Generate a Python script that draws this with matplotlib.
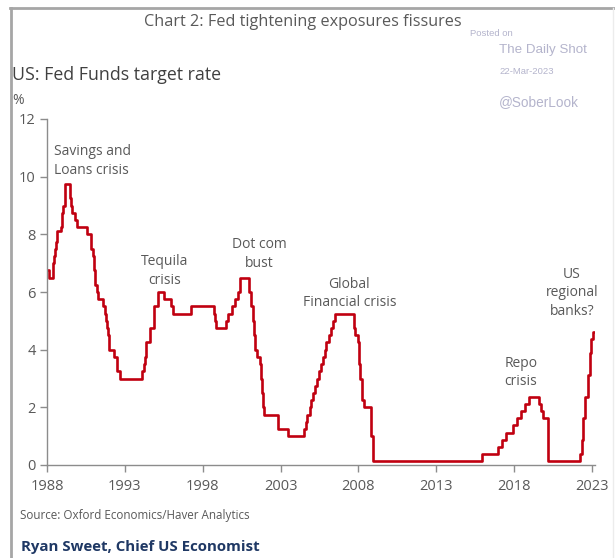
import matplotlib.pyplot as plt
from matplotlib.lines import Line2D

# Fed funds target rate: dates (decimal years) where the target changes, and the new level
change_dates = [
    1988.0, 1988.15, 1988.4, 1988.45, 1988.5, 1988.55, 1988.65, 1988.9, 1988.95,
    1989.05, 1989.15, 1989.45, 1989.5, 1989.55, 1989.6, 1989.8, 1989.9,
    1990.55, 1990.8, 1990.85, 1990.95, 1991.0, 1991.05, 1991.1, 1991.2, 1991.3,
    1991.6, 1991.7, 1991.8, 1991.85, 1991.93, 1991.97, 1992.3, 1992.5, 1992.7,
    1994.1, 1994.2, 1994.3, 1994.38, 1994.62, 1994.88, 1995.1, 1995.5, 1995.95,
    1996.08, 1997.23, 1998.75, 1998.8, 1998.88, 1999.5, 1999.65, 1999.88,
    2000.08, 2000.25, 2000.38, 2001.0, 2001.08, 2001.2, 2001.3, 2001.38, 2001.5,
    2001.65, 2001.72, 2001.8, 2001.85, 2001.95, 2002.85, 2003.5,
    2004.5, 2004.62, 2004.72, 2004.88, 2004.95, 2005.1, 2005.22, 2005.35, 2005.5,
    2005.62, 2005.72, 2005.85, 2005.95, 2006.1, 2006.22, 2006.38, 2006.5,
    2007.72, 2007.8, 2007.95, 2008.05, 2008.1, 2008.22, 2008.33, 2008.78, 2008.83,
    2008.96, 2015.96, 2016.96, 2017.2, 2017.46, 2017.96, 2018.22, 2018.46,
    2018.72, 2018.96, 2019.58, 2019.72, 2019.83, 2020.17, 2020.21,
    2022.22, 2022.38, 2022.46, 2022.58, 2022.72, 2022.85, 2022.96, 2023.1, 2023.2,
]
target_rate = [
    6.75, 6.5, 7.0, 7.25, 7.5, 7.75, 8.125, 8.25, 8.75,
    9.0, 9.75, 9.5, 9.25, 9.0, 8.75, 8.5, 8.25,
    8.0, 7.75, 7.5, 7.25, 7.0, 6.75, 6.25, 6.0, 5.75,
    5.5, 5.25, 5.0, 4.75, 4.5, 4.0, 3.75, 3.25, 3.0,
    3.25, 3.5, 3.75, 4.25, 4.75, 5.5, 6.0, 5.75, 5.5,
    5.25, 5.5, 5.25, 5.0, 4.75, 5.0, 5.25, 5.5,
    5.75, 6.0, 6.5, 6.0, 5.5, 5.0, 4.5, 4.0, 3.75,
    3.5, 3.0, 2.5, 2.0, 1.75, 1.25, 1.0,
    1.25, 1.5, 1.75, 2.0, 2.25, 2.5, 2.75, 3.0, 3.25,
    3.5, 3.75, 4.0, 4.25, 4.5, 4.75, 5.0, 5.25,
    4.75, 4.5, 4.25, 3.5, 3.0, 2.25, 2.0, 1.5, 1.0,
    0.125, 0.375, 0.625, 0.875, 1.125, 1.375, 1.625, 1.875,
    2.125, 2.375, 2.125, 1.875, 1.625, 1.125, 0.125,
    0.375, 0.875, 1.625, 2.375, 3.125, 3.875, 4.375, 4.625, 4.625,
]

year_ticks = [1988, 1993, 1998, 2003, 2008, 2013, 2018, 2023]
rate_ticks = [0, 2, 4, 6, 8, 10, 12]

# episode labels: text, x (year), y (rate), alignment
episodes = [
    ("Savings and\nLoans crisis", 1988.45, 10.54, "left"),
    ("Tequila\ncrisis", 1995.56, 6.73, "center"),
    ("Dot com\nbust", 2001.65, 7.32, "center"),
    ("Global\nFinancial crisis", 2007.42, 5.95, "center"),
    ("Repo\ncrisis", 2018.45, 3.21, "center"),
    ("US\nregional\nbanks?", 2021.72, 5.97, "center"),
]

plt.rcParams['font.family'] = ['Open Sans', 'DejaVu Sans']

W, H = 615, 558
fig = plt.figure(figsize=(W / 100, H / 100), dpi=100)


def fx(x):
    return x / W


def fy(y):
    return 1 - y / H


grey = '#595959'
line_red = '#c00010'

ax = fig.add_axes([fx(47), fy(465), fx(595) - fx(47), fy(119) - fy(465)])
ax.step(change_dates, target_rate, where='post', color=line_red, lw=1.9)
ax.set_xlim(1988, 2023.2)
ax.set_ylim(0, 12)
ax.set_xticks(year_ticks)
ax.set_yticks(rate_ticks)
for side in ['top', 'right']:
    ax.spines[side].set_visible(False)
for side in ['left', 'bottom']:
    ax.spines[side].set_color('#8c8c8c')
    ax.spines[side].set_linewidth(1.0)
ax.tick_params(axis='both', colors='#8c8c8c', labelcolor=grey, labelsize=10.5,
               length=5, width=1.0, direction='out')
ax.tick_params(axis='x', pad=5)
ax.tick_params(axis='y', pad=3)

for label, x, y, ha in episodes:
    ax.text(x, y, label, ha=ha, va='center', fontsize=10, color=grey,
            linespacing=1.35)

# titles and notes
fig.text(fx(303), fy(22), "Chart 2: Fed tightening exposures fissures",
         ha='center', va='center', fontsize=11.7, color=grey)
fig.text(fx(12), fy(75), "US: Fed Funds target rate", ha='left', va='center',
         fontsize=12.8, color='#404040')
fig.text(fx(12), fy(101), "%", ha='left', va='center', fontsize=10, color=grey)
fig.text(fx(20), fy(516), "Source: Oxford Economics/Haver Analytics", ha='left',
         va='center', fontsize=8.4, color=grey)
fig.text(fx(21), fy(547), "Ryan Sweet, Chief US Economist", ha='left',
         va='center', fontsize=10.8, color='#1f3864', fontweight='bold')

# watermark
wm = '#b4b4cc'
fig.text(fx(470), fy(33), "Posted on", fontsize=6.8, color=wm, va='center',
         family='Liberation Sans')
fig.text(fx(499), fy(50), "The Daily Shot", fontsize=9.6, color=wm, va='center',
         family='Liberation Sans')
fig.text(fx(499), fy(72), "22-Mar-2023", fontsize=6.8, color=wm, va='center',
         family='Liberation Sans')
fig.text(fx(499), fy(102), "@SoberLook", fontsize=9.8, color=wm, va='center',
         family='Liberation Sans')

# frame around the panel
frame = '#a6a6a6'
fig.add_artist(Line2D([fx(11), fx(11)], [fy(8), fy(558)], color=frame, lw=2,
                      transform=fig.transFigure))
fig.add_artist(Line2D([fx(10), fx(615)], [fy(8), fy(8)], color=frame, lw=2,
                      transform=fig.transFigure))
fig.add_artist(Line2D([fx(613), fx(613)], [fy(8), fy(558)], color='#ececec',
                      lw=1, transform=fig.transFigure))

fig.savefig('out.png', dpi=100)
